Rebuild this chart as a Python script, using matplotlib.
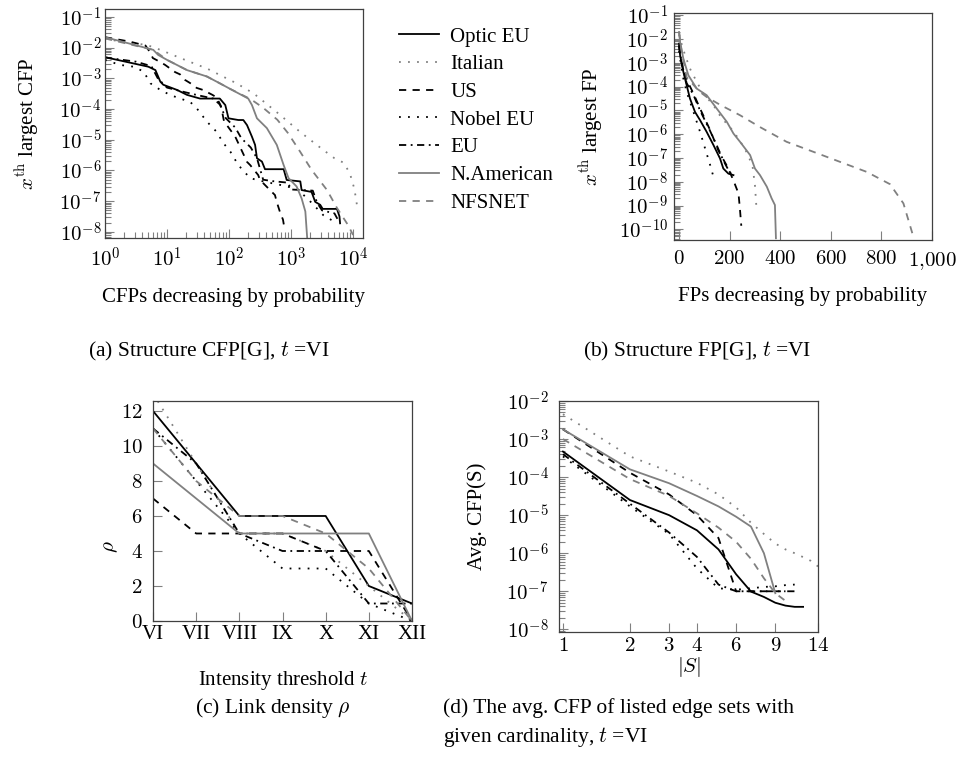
import numpy as np
import matplotlib.pyplot as plt
from matplotlib.ticker import LogLocator, FixedLocator, FuncFormatter, NullLocator

plt.rcParams['font.family'] = ['Liberation Serif', 'DejaVu Serif']
plt.rcParams['mathtext.fontset'] = 'cm'

names = ['Optic EU', 'Italian', 'US', 'Nobel EU', 'EU', 'N.American', 'NFSNET']

# (a) x-th largest CFP vs rank
a_x = {
    'Optic EU': [1, 5.0, 6.5, 7.8, 8.7, 14.5, 21, 34, 71, 87, 98, 141, 170, 195, 234, 263, 282, 339, 380,
                 759, 851, 1410, 1480, 2140, 2450, 2950, 3240, 5500, 6030, 6170],
    'Italian': [1, 1.74, 4.7, 7.8, 14.5, 23, 44, 71, 132, 251, 589, 1410, 3160, 5010, 7080, 8910, 10500, 11500],
    'US': [1, 2.5, 4.5, 5.4, 5.9, 7.8, 9.3, 13.5, 16.2, 19.5, 23.4, 30, 38, 54, 63, 74, 83, 126, 195, 219,
           295, 316, 550, 589, 661, 741, 794],
    'Nobel EU': [1, 1.74, 2.9, 4.2, 5.4, 7.8, 11.2, 16.2, 23.4, 30, 44, 63, 81, 105, 141, 219, 355, 661,
                 1260, 2140, 3310, 5500],
    'EU': [1, 3.16, 5.6, 7.1, 10, 20, 32, 56, 71, 89, 126, 158, 224, 282, 355, 501, 891, 1000, 2240, 2630,
           3160, 5010, 6030],
    'N.American': [1, 6.0, 7.2, 10, 21, 44, 71, 105, 204, 234, 282, 407, 589, 759, 912, 1230, 1480, 1700, 1820],
    'NFSNET': [1, 6, 10, 21, 44, 71, 105, 204, 250, 355, 600, 890, 1410, 2140, 3800, 5500, 8300, 10000],
}
a_y = {
    'Optic EU': [4.9e-3, 2.4e-3, 1.86e-3, 7.8e-4, 6.2e-4, 4.2e-4, 2.9e-4, 2.2e-4, 2.2e-4, 1.35e-4, 5.0e-5,
                 4.4e-5, 4.4e-5, 3.0e-5, 1.26e-5, 6.8e-6, 2.5e-6, 1.95e-6, 1.1e-6, 1.1e-6, 4.9e-7, 4.4e-7,
                 2.3e-7, 2.0e-7, 9.5e-8, 7.6e-8, 5.6e-8, 5.6e-8, 3.2e-8, 1.9e-8],
    'Italian': [2.0e-2, 1.58e-2, 1.23e-2, 8.5e-3, 5.1e-3, 3.5e-3, 2.1e-3, 1.29e-3, 6.9e-4, 3.2e-4, 7.9e-5,
                1.78e-5, 5.0e-6, 2.5e-6, 1.78e-6, 7.9e-7, 2.5e-7, 7.9e-8],
    'US': [2.2e-2, 1.58e-2, 1.17e-2, 6.8e-3, 4.6e-3, 3.4e-3, 2.75e-3, 1.6e-3, 1.35e-3, 8.9e-4, 7.1e-4,
           4.9e-4, 4.2e-4, 2.9e-4, 2.4e-4, 1.26e-4, 4.0e-5, 1.26e-5, 1.9e-6, 1.5e-6, 7.1e-7, 4.9e-7,
           1.58e-7, 9.3e-8, 4.5e-8, 2.5e-8, 1.1e-8],
    'Nobel EU': [4.0e-3, 2.75e-3, 2.4e-3, 1.66e-3, 6.9e-4, 4.2e-4, 2.9e-4, 2.2e-4, 1.74e-4, 1.07e-4, 3.9e-5,
                 1.82e-5, 7.8e-6, 4.1e-6, 1.5e-6, 5.6e-7, 4.4e-7, 3.4e-7, 2.5e-7, 8.9e-8, 3.5e-8, 1.9e-8],
    'EU': [4.8e-3, 3.5e-3, 2.5e-3, 1.0e-3, 5.0e-4, 3.5e-4, 2.8e-4, 2.2e-4, 1.41e-4, 5.0e-5, 2.5e-5, 1.12e-5,
           5.6e-6, 2.5e-6, 5.0e-7, 4.5e-7, 4.0e-7, 2.4e-7, 2.2e-7, 8.9e-8, 5.0e-8, 4.0e-8, 2.0e-8],
    'N.American': [2.2e-2, 8.5e-3, 5.8e-3, 4.0e-3, 1.86e-3, 1.15e-3, 6.9e-4, 4.5e-4, 2.2e-4, 1.35e-4, 5.0e-5,
                   2.4e-5, 6.8e-6, 1.5e-6, 5.6e-7, 3.0e-7, 1.23e-7, 4.6e-8, 6.3e-9],
    'NFSNET': [2.0e-2, 8.5e-3, 4.0e-3, 1.86e-3, 1.15e-3, 6.9e-4, 4.5e-4, 2.3e-4, 1.8e-4, 1.1e-4, 4.5e-5,
               1.66e-5, 4.0e-6, 1.05e-6, 2.3e-7, 6.0e-8, 1.66e-8, 7.9e-9],
}

# (b) x-th largest FP vs rank
b_x = {
    'Optic EU': [0, 4, 17, 30, 43, 63, 83, 109, 136, 162, 175, 195, 215],
    'Italian': [0, 10, 24, 43, 70, 96, 136, 169, 195, 221, 260, 290, 300, 307],
    'US': [0, 10, 30, 57, 83, 123, 155, 195, 217, 235, 241, 246],
    'Nobel EU': [0, 8, 17, 30, 57, 83, 103, 123, 136],
    'EU': [0, 10, 30, 57, 83, 120, 150, 175, 200, 210],
    'N.American': [0, 4, 17, 37, 70, 109, 149, 189, 215, 241, 281, 300, 320, 347, 366, 379, 383],
    'NFSNET': [0, 10, 30, 80, 109, 160, 241, 320, 425, 531, 636, 742, 834, 887, 926],
}
b_y = {
    'Optic EU': [6.5e-3, 2.1e-3, 4.2e-4, 1.15e-4, 3.2e-5, 8.7e-6, 3.9e-6, 1.26e-6, 3.5e-7, 9.5e-8, 3.6e-8,
                 2.2e-8, 1.9e-8],
    'Italian': [1.58e-2, 6.3e-3, 2.1e-3, 5.8e-4, 1.58e-4, 5.1e-5, 1.66e-5, 4.6e-6, 2.4e-6, 1.07e-6, 2.5e-7,
                5.0e-8, 7.2e-9, 5.5e-10],
    'US': [5.0e-3, 1.0e-3, 2.0e-4, 5.1e-5, 1.2e-5, 1.48e-6, 2.1e-7, 3.6e-8, 1.0e-8, 3.2e-9, 6.5e-10, 1.41e-10],
    'Nobel EU': [3.2e-3, 7.9e-4, 2.2e-4, 6.0e-5, 8.7e-6, 1.26e-6, 2.5e-7, 5.0e-8, 1.62e-8],
    'EU': [5.6e-3, 1.0e-3, 1.41e-4, 4.5e-5, 1.0e-5, 1.58e-6, 3.2e-7, 7.9e-8, 2.5e-8, 2.0e-8],
    'N.American': [2.0e-2, 7.6e-3, 1.5e-3, 3.0e-4, 8.3e-5, 4.4e-5, 1.2e-5, 3.3e-6, 1.07e-6, 4.8e-7, 1.32e-7,
                   3.6e-8, 1.9e-8, 6.2e-9, 2.0e-9, 1.05e-9, 4.2e-11],
    'NFSNET': [2.0e-2, 3.2e-3, 2.5e-4, 6.3e-5, 3.7e-5, 1.78e-5, 6.3e-6, 2.0e-6, 4.8e-7, 1.82e-7, 6.9e-8,
               2.6e-8, 7.9e-9, 1.23e-9, 5.0e-11],
}

# (c) link density per intensity threshold
c_labels = ['VI', 'VII', 'VIII', 'IX', 'X', 'XI', 'XII']
c_y = {
    'Optic EU': [12, 9, 6, 6, 6, 2, 1],
    'Italian': [13, 9, 5, 5, 4, 2, 0],
    'US': [7, 5, 5, 5, 4, 4, 0],
    'Nobel EU': [11, 8, 5, 3, 3, 1, 0],
    'EU': [11, 9, 5, 4, 4, 1, 1],
    'N.American': [9, 7, 5, 5, 5, 5, 0],
    'NFSNET': [11, 8, 6, 6, 5, 3, 0],
}

# (d) avg CFP vs |S|
d_y = {
    'Optic EU': [4.7e-4, 2.5e-5, 1.0e-5, 4.0e-6, 1.26e-6, 2.8e-7, 9.8e-8, 7.1e-8, 5.0e-8, 4.2e-8, 3.9e-8, 3.9e-8],
    'Italian': [4.5e-3, 3.5e-4, 1.4e-4, 7.1e-5, 3.5e-5, 1.6e-5, 6.3e-6, 3.2e-6, 1.8e-6, 1.26e-6, 1.0e-6,
                7.9e-7, 6.3e-7, 4.5e-7],
    'US': [1.8e-3, 1.3e-4, 3.5e-5, 1.0e-5, 2.5e-6, 1.0e-7, 1.0e-7, 1.0e-7, 1.0e-7, 1.0e-7, 1.0e-7],
    'Nobel EU': [3.5e-4, 1.7e-5, 3.2e-6, 4.0e-7, 1.2e-7, 1.1e-7, 1.2e-7, 1.3e-7, 1.35e-7, 1.45e-7, 1.5e-7],
    'EU': [4.0e-4, 2.0e-5, 3.5e-6, 8.0e-7, 1.5e-7, 1.0e-7, 1.0e-7, 1.0e-7, 1.0e-7, 1.0e-7],
    'N.American': [1.8e-3, 1.6e-4, 6.9e-5, 3.2e-5, 1.7e-5, 9.1e-6, 5.0e-6, 1.0e-6, 8.9e-8],
    'NFSNET': [1.0e-3, 8.9e-5, 3.2e-5, 1.12e-5, 4.7e-6, 2.0e-6, 7.1e-7, 2.2e-7, 8.9e-8, 5.6e-8],
}
d_xticks = [1, 2, 3, 4, 6, 9, 14]

gray = '#808080'
styles = {
    'Optic EU': dict(color='k', ls='-'),
    'Italian': dict(color=gray, ls=(0, (1, 4))),
    'US': dict(color='k', ls=(0, (4, 3.5))),
    'Nobel EU': dict(color='k', ls=(0, (1, 4))),
    'EU': dict(color='k', ls=(0, (4, 2.5, 1, 2.5))),
    'N.American': dict(color=gray, ls='-'),
    'NFSNET': dict(color=gray, ls=(0, (4, 3.5))),
}
LW = 1.3
TICK_FS = 15
LAB_FS = 15

W, H = 958, 762
fig = plt.figure(figsize=(W / 100, H / 100), dpi=100)


def box(l, t, r, b):
    return [l / W, 1 - b / H, (r - l) / W, (b - t) / H]


def pow10(v, pos):
    return r'$10^{%d}$' % int(round(np.log10(v)))


def style_axes(ax):
    ax.tick_params(which='both', direction='in', top=False, right=False, color='0.5',
                   labelsize=TICK_FS, width=0.8)
    ax.tick_params(which='major', length=6.5)
    ax.tick_params(which='minor', length=4.5)
    for s in ax.spines.values():
        s.set_color('0.25')
        s.set_linewidth(0.9)


def log_y(ax, lo, hi):
    ax.set_yscale('log')
    ax.set_ylim(lo, hi)
    ax.yaxis.set_major_locator(LogLocator(base=10, numticks=100))
    ax.yaxis.set_minor_locator(LogLocator(base=10, subs=np.arange(2, 10), numticks=100))
    ax.yaxis.set_major_formatter(FuncFormatter(pow10))


def set_labels(ax, xl, yl, xy, yx, yy=0.5):
    ax.set_xlabel(xl, fontsize=LAB_FS)
    ax.set_ylabel(yl, fontsize=LAB_FS)
    ax.xaxis.set_label_coords(0.5, xy)
    ax.xaxis.label.set_verticalalignment('center')
    ax.yaxis.set_label_coords(yx, yy)
    ax.yaxis.label.set_verticalalignment('center')


# (a)
axa = fig.add_axes(box(105, 9, 363, 238))
for n in names:
    axa.plot(a_x[n], a_y[n], lw=LW, label=n, **styles[n])
axa.set_xscale('log')
axa.set_xlim(1, 10 ** 4.16)
log_y(axa, 10 ** -8.2, 10 ** -0.74)
axa.xaxis.set_major_locator(LogLocator(base=10, numticks=100))
axa.xaxis.set_minor_locator(LogLocator(base=10, subs=np.arange(2, 10), numticks=100))
axa.xaxis.set_major_formatter(FuncFormatter(pow10))
style_axes(axa)
axa.tick_params(axis='x', pad=7)
axa.tick_params(axis='y', pad=2.5)
set_labels(axa, 'CFPs decreasing by probability', r'$x^{\mathrm{th}}$ largest CFP', -0.258, -0.30)

# (b)
axb = fig.add_axes(box(674, 13, 932, 240))
for n in names:
    axb.plot(b_x[n], b_y[n], lw=LW, **styles[n])
axb.set_xlim(-20, 1000)
log_y(axb, 10 ** -10.45, 10 ** -0.9)
axb.xaxis.set_major_locator(FixedLocator([0, 200, 400, 600, 800, 1000]))
axb.xaxis.set_major_formatter(FuncFormatter(lambda v, p: r'$1{,}000$' if v >= 1000 else r'$%d$' % v))
style_axes(axb)
axb.tick_params(axis='x', pad=7)
axb.tick_params(axis='y', pad=4.5)
set_labels(axb, 'FPs decreasing by probability', r'$x^{\mathrm{th}}$ largest FP', -0.251, -0.318)

# (c)
axc = fig.add_axes(box(153, 401, 412, 621))
xc = np.arange(len(c_labels))
for n in names:
    axc.plot(xc, c_y[n], lw=LW, **styles[n])
axc.set_xlim(0, len(c_labels) - 1)
axc.set_ylim(0, 12.57)
axc.set_xticks(xc)
axc.set_xticklabels(c_labels)
axc.set_yticks([0, 2, 4, 6, 8, 10, 12])
axc.yaxis.set_major_formatter(FuncFormatter(lambda v, p: r'$%d$' % v))
style_axes(axc)
axc.tick_params(axis='x', labelsize=LAB_FS, pad=3)
axc.tick_params(axis='y', pad=7.5)
set_labels(axc, r'Intensity threshold $t$', r'$\rho$', -0.27, -0.165, 0.336)

# (d)
axd = fig.add_axes(box(559, 401, 818, 632))
for n in names:
    axd.plot(np.arange(1, len(d_y[n]) + 1), d_y[n], lw=LW, **styles[n])
axd.set_xscale('log')
axd.set_xlim(0.96, 14)
log_y(axd, 10 ** -8.07, 10 ** -2)
axd.xaxis.set_major_locator(FixedLocator(d_xticks))
axd.xaxis.set_minor_locator(NullLocator())
axd.xaxis.set_major_formatter(FuncFormatter(lambda v, p: r'$%d$' % v))
style_axes(axd)
axd.tick_params(axis='x', pad=3.5)
axd.tick_params(axis='y', pad=7.5)
set_labels(axd, r'$|S|$', 'Avg. CFP(S)', -0.152, -0.317)

# shared legend
fs_leg = 15
fig.legend(handles=axa.get_lines(), loc='upper left', bbox_to_anchor=(399 / W, 1 - 27 / H),
           frameon=False, fontsize=fs_leg, borderpad=0, borderaxespad=0, handlelength=1.9,
           handletextpad=0.55, labelspacing=0.39)

# captions
CAP_FS = 15.5
fig.text(88 / W, 1 - 351 / H, r'(a) Structure CFP[G], $t$ =VI', fontsize=CAP_FS, va='center')
fig.text(583 / W, 1 - 351 / H, r'(b) Structure FP[G], $t$ =VI', fontsize=CAP_FS, va='center')
fig.text(195 / W, 1 - 708 / H, r'(c) Link density $\rho$', fontsize=CAP_FS, va='center')
fig.text(443 / W, 1 - 708 / H, '(d) The avg. CFP of listed edge sets with', fontsize=CAP_FS, va='center')
fig.text(443 / W, 1 - 737 / H, r'given cardinality, $t$ =VI', fontsize=CAP_FS, va='center')

fig.savefig('out.png', dpi=100)
